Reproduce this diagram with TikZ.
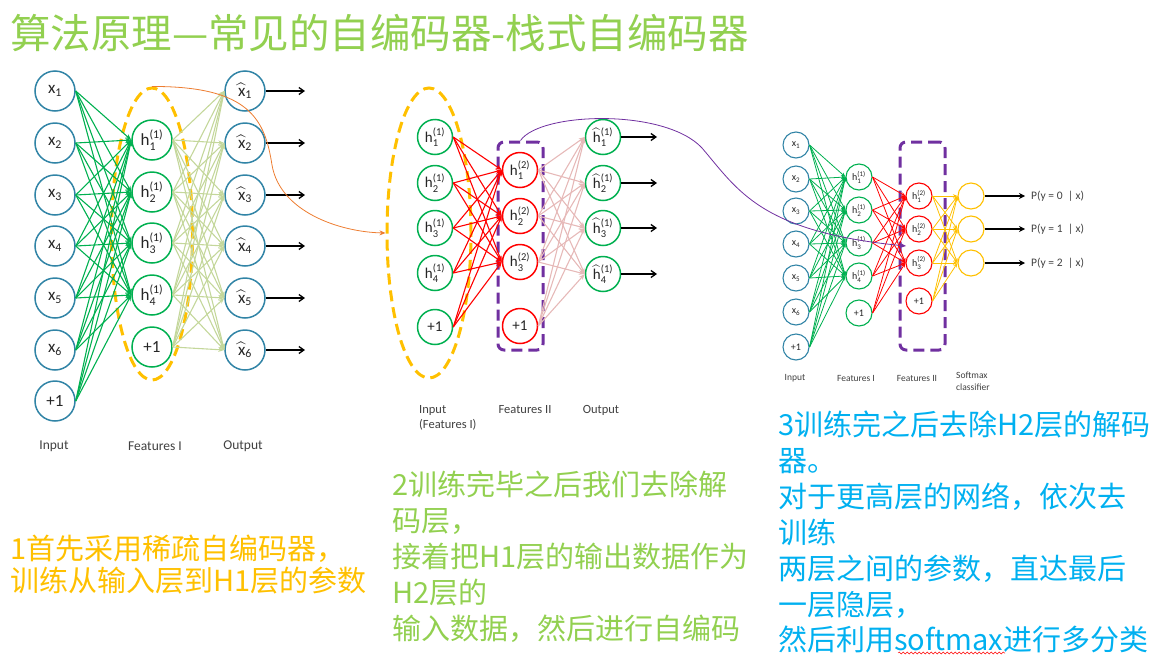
\documentclass[tikz,border=0pt]{standalone}
\usepackage{amsmath}
\usepackage{fontspec}
\setmainfont{Carlito}
\newfontfamily\cjk{Noto Sans CJK SC}
\usetikzlibrary{arrows.meta,decorations.pathmorphing,shapes.geometric}
\definecolor{cblue}{RGB}{49,132,166}
\definecolor{cgreen}{RGB}{0,176,80}
\definecolor{clgreen}{RGB}{196,215,155}
\definecolor{cred}{RGB}{255,0,0}
\definecolor{cpink}{RGB}{230,185,184}
\definecolor{cyel}{RGB}{255,192,0}
\definecolor{cpurple}{RGB}{112,48,160}
\definecolor{corange}{RGB}{237,125,49}
\definecolor{ctitle}{RGB}{146,208,80}
\definecolor{ctblue}{RGB}{0,176,240}
\definecolor{clabel}{RGB}{64,64,64}
\begin{document}
\begin{tikzpicture}[x=1pt,y=-1pt,
  every node/.style={inner sep=0pt},
  neuron/.style={circle,draw,fill=white,inner sep=0pt,text=black!85},
  bigN/.style={neuron,minimum size=40pt,line width=1.5pt,font=\fontsize{17}{17}\selectfont},
  midN/.style={neuron,minimum size=35pt,line width=1.5pt,font=\fontsize{15}{15}\selectfont},
  smallN/.style={neuron,minimum size=26pt,line width=1.1pt,font=\fontsize{10}{10}\selectfont},
  edgeA/.style={line width=1.1pt,-{Stealth[length=6pt,width=4.5pt]}},
  edgeB/.style={line width=0.8pt,-{Stealth[length=4.5pt,width=3.5pt]}},
  outarr/.style={line width=1.3pt,black,-{Straight Barb[length=5pt,width=7pt]}},
  outarrS/.style={line width=1.8pt,black,-{Stealth[length=6pt,width=6pt]},shorten >=6pt},
  yelldash/.style={draw=cyel,line width=3pt,dash pattern=on 11pt off 6pt},
  purpdash/.style={draw=cpurple,line width=3pt,dash pattern=on 11pt off 6pt,rounded corners=6pt},
  labA/.style={text=clabel,font=\fontsize{13.5}{13.5}\selectfont},
  labB/.style={text=clabel,font=\fontsize{12.5}{15}\selectfont},
  labC/.style={text=clabel,font=\fontsize{9.5}{11.5}\selectfont},
  cjktxt/.style={anchor=base west,font=\cjk\fontsize{29}{29}\selectfont}
]
\useasboundingbox (0,0) rectangle (1169,659);

% ---------------- Title ----------------
\node[anchor=base west,text=ctitle,font=\cjk\fontsize{40.5}{40.5}\selectfont] (title) at (10,48) {算法原理—常见的自编码器-栈式自编码器};

% ---------------- Left network ----------------
\node[ellipse,yelldash,minimum width=81pt,minimum height=292pt] (E1) at (152,234) {};
\foreach \i/\y in {1/91,2/143,3/195,4/246,5/298,6/350}
  \node[bigN,draw=cblue] (L\i) at (55,\y) {$\text{x}_{\text{\i}}$};
\node[bigN,draw=cblue] (L7) at (55,401) {+1};
\foreach \i/\y in {1/140,2/192,3/243,4/295}
  \node[bigN,draw=cgreen] (LH\i) at (152,\y) {$\text{h}^{\text{(1)}}_{\text{\i}}$};
\node[bigN,draw=cgreen] (LH5) at (152,347) {+1};
\foreach \i/\y in {1/91,2/143,3/195,4/246,5/298,6/350}{
  \node[bigN,draw=cblue] (LO\i) at (245,\y) {$\widehat{\text{x}}_{\text{\i}}$};
  \coordinate (LA\i) at (305,\y);
  \draw[outarr] (LO\i.east) -- (LA\i);
}
\foreach \i in {1,...,7}\foreach \j in {1,...,4}
  \draw[edgeA,cgreen] (L\i.east) -- (LH\j.west);
\foreach \i in {1,...,5}\foreach \j in {1,...,6}
  \draw[edgeA,clgreen] (LH\i.east) -- (LO\j.west);
\node[labA] (li1) at (54,446) {Input};
\node[labA] (li2) at (155,446) {Features I};
\node[labA] (li3) at (243,446) {Output};

% ---------------- Middle network ----------------
\node[ellipse,yelldash,minimum width=84pt,minimum height=290pt] (E2) at (429,233) {};
\node[purpdash,minimum width=45pt,minimum height=208pt] (PR1) at (520.5,246) {};
\foreach \i/\y in {1/137,2/183,3/228,4/273}
  \node[midN,draw=cgreen] (M\i) at (435,\y) {$\text{h}^{\text{(1)}}_{\text{\i}}$};
\node[midN,draw=cgreen] (M5) at (435,327) {+1};
\foreach \i/\y in {1/170,2/216,3/262}
  \node[midN,draw=cred] (MH\i) at (520,\y) {$\text{h}^{\text{(2)}}_{\text{\i}}$};
\node[midN,draw=cred] (MH4) at (520,326) {+1};
\foreach \i/\y in {1/137,2/183,3/228,4/274}{
  \node[midN,draw=cgreen] (MO\i) at (603,\y) {$\widehat{\text{h}}{}^{\text{(1)}}_{\text{\i}}$};
  \coordinate (MA\i) at (657,\y);
  \draw[outarr] (MO\i.east) -- (MA\i);
}
\foreach \i in {1,...,5}\foreach \j in {1,...,3}
  \draw[edgeA,cred] (M\i.east) -- (MH\j.west);
\foreach \i in {1,...,4}\foreach \j in {1,...,4}
  \draw[edgeA,cpink] (MH\i.east) -- (MO\j.west);
\node[labB,anchor=west,align=left] (mi1) at (419,418) {Input\\(Features I)};
\node[labB] (mi2) at (525,410) {Features II};
\node[labB] (mi3) at (601,410) {Output};

% ---------------- Right network ----------------
\node[purpdash,minimum width=45pt,minimum height=208pt] (PR2) at (922.5,246) {};
\foreach \i/\y in {1/145,2/179,3/211,4/244,5/278,6/312}
  \node[smallN,draw=cblue] (R\i) at (796,\y) {$\text{x}_{\text{\i}}$};
\node[smallN,draw=cblue] (R7) at (796,347) {+1};
\foreach \i/\y in {1/177,2/210,3/243,4/276}
  \node[smallN,draw=cgreen] (RH\i) at (859,\y) {$\text{h}^{\text{(1)}}_{\text{\i}}$};
\node[smallN,draw=cgreen] (RH5) at (859,313) {+1};
\foreach \i/\y in {1/196,2/229,3/263}
  \node[smallN,draw=cred] (RG\i) at (919,\y) {$\text{h}^{\text{(2)}}_{\text{\i}}$};
\node[smallN,draw=cred] (RG4) at (919,301) {+1};
\foreach \i/\y/\k in {1/196/0,2/229/1,3/263/2}{
  \node[smallN,draw=cyel] (RS\i) at (971,\y) {};
  \node[anchor=west,font=\fontsize{11.5}{11.5}\selectfont,text=clabel] (P\i) at (1031,\y) {P(y = \k\ \ |\ x)};
  \draw[outarrS] (RS\i.east) -- (P\i.west);
}
\foreach \i in {1,...,7}\foreach \j in {1,...,4}
  \draw[edgeB,cgreen] (R\i.east) -- (RH\j.west);
\foreach \i in {1,...,5}\foreach \j in {1,...,3}
  \draw[edgeB,cred] (RH\i.east) -- (RG\j.west);
\foreach \i in {1,...,4}\foreach \j in {1,...,3}
  \draw[edgeB,cyel] (RG\i.east) -- (RS\j.west);
\node[labC] (ri1) at (795,378) {Input};
\node[labC] (ri2) at (856,378) {Features I};
\node[labC] (ri3) at (917,378) {Features II};
\node[labC,anchor=north west,align=left] (ri4) at (956,372) {Softmax\\classifier};

% ---------------- Curved connectors ----------------
\coordinate (pend) at (906,246);
\draw[corange,line width=0.8pt,-{Stealth[length=6pt,width=5pt]}]
  (E1.north) .. controls (250,86) and (265,120) .. (272,165)
  .. controls (280,212) and (340,232) .. (E2.west);
\draw[cpurple,line width=0.8pt,-{Stealth[length=6pt,width=5pt]}]
  (PR1.north) .. controls (540,112) and (665,108) .. (702,148)
  .. controls (738,190) and (760,232) .. (pend);

% ---------------- Texts ----------------
\node[cjktxt,text=cyel] (t1a) at (10,559) {1首先采用稀疏自编码器，};
\node[cjktxt,text=cyel] (t1b) at (10,591) {训练从输入层到H1层的参数};

\node[cjktxt,text=ctitle] (t2a) at (392,495) {2训练完毕之后我们去除解};
\node[cjktxt,text=ctitle] (t2b) at (392,531) {码层，};
\node[cjktxt,text=ctitle] (t2c) at (392,567) {接着把H1层的输出数据作为};
\node[cjktxt,text=ctitle] (t2d) at (392,603) {H2层的};
\node[cjktxt,text=ctitle] (t2e) at (392,639) {输入数据，然后进行自编码};

\node[cjktxt,text=ctblue] (t3a) at (778,435) {3训练完之后去除H2层的解码};
\node[cjktxt,text=ctblue] (t3b) at (778,471) {器。};
\node[cjktxt,text=ctblue] (t3c) at (778,507) {对于更高层的网络，依次去};
\node[cjktxt,text=ctblue] (t3d) at (778,543) {训练};
\node[cjktxt,text=ctblue] (t3e) at (778,579) {两层之间的参数，直达最后};
\node[cjktxt,text=ctblue] (t3f) at (778,615) {一层隐层，};
\node[cjktxt,text=ctblue] (t3g) at (778,650) {然后利用softmax进行多分类};
\draw[red,line width=0.5pt,decorate,decoration={snake,amplitude=1pt,segment length=4pt}] (898,653) -- (1005,653);
\end{tikzpicture}
\end{document}
